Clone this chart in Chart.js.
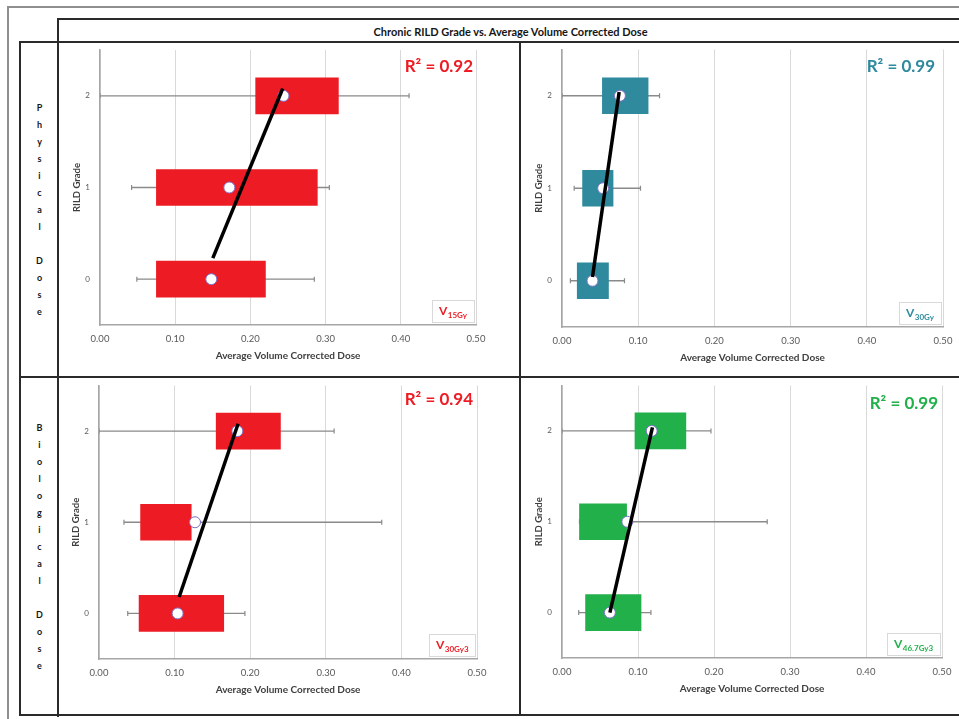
<!DOCTYPE html>
<html>
<head>
<meta charset="utf-8">
<title>Chronic RILD Grade vs. Average Volume Corrected Dose</title>
<script src="https://cdn.jsdelivr.net/npm/chart.js@4.4.1/dist/chart.umd.min.js"></script>
<style>
  html, body { margin: 0; padding: 0; background: #fff; }
  #page { position: relative; width: 959px; height: 719px; overflow: hidden;
          font-family: Lato, "Open Sans", sans-serif; }
  .rule { position: absolute; background: #2a2a2a; }
  .outer { position: absolute; background: #8f8f8f; }
  #title { position: absolute; left: 58px; top: 20px; width: 905px; height: 22px; line-height: 23px;
           text-align: center; font-weight: bold; font-size: 11px; color: #151515; }
  .side { position: absolute; left: 21px; width: 37px; display: flex; flex-direction: column;
          justify-content: center; align-items: center; font-weight: bold; font-size: 9px; color: #151515; }
  .side div { height: 17px; line-height: 17px; }
  canvas { position: absolute; }
</style>
</head>
<body>
<div id="page"></div>
<script>
// ---- data ----
const grades = [0, 1, 2];
const gradeTicks = [0, 1, 2];
const doseTicks = [0, 0.1, 0.2, 0.3, 0.4, 0.5];
const rowLabels = ['Physical Dose', 'Biological Dose'];
const chartTitle = 'Chronic RILD Grade vs. Average Volume Corrected Dose';
const axisTitleX = 'Average Volume Corrected Dose';
const axisTitleY = 'RILD Grade';

// V15Gy (physical dose)
const v15BoxLow      = [0.075, 0.075, 0.207];
const v15BoxHigh     = [0.220, 0.289, 0.317];
const v15WhiskerLow  = [0.049, 0.042, 0.000];
const v15WhiskerHigh = [0.285, 0.305, 0.411];
const v15Mean        = [0.148, 0.172, 0.244];
const v15TrendDose   = [0.150, 0.243];
const v15TrendGrade  = [0.23, 2.08];
const v15R2 = '0.92';

// V30Gy (physical dose)
const v30BoxLow      = [0.020, 0.027, 0.053];
const v30BoxHigh     = [0.061, 0.067, 0.113];
const v30WhiskerLow  = [0.011, 0.016, 0.000];
const v30WhiskerHigh = [0.082, 0.103, 0.128];
const v30Mean        = [0.040, 0.054, 0.076];
const v30TrendDose   = [0.040, 0.075];
const v30TrendGrade  = [0.04, 2.04];
const v30R2 = '0.99';

// V30Gy3 (biological dose)
const v30g3BoxLow      = [0.053, 0.055, 0.155];
const v30g3BoxHigh     = [0.165, 0.122, 0.240];
const v30g3WhiskerLow  = [0.038, 0.033, 0.000];
const v30g3WhiskerHigh = [0.193, 0.374, 0.311];
const v30g3Mean        = [0.104, 0.127, 0.183];
const v30g3TrendDose   = [0.106, 0.184];
const v30g3TrendGrade  = [0.18, 2.08];
const v30g3R2 = '0.94';

// V46.7Gy3 (biological dose)
const v467BoxLow      = [0.031, 0.023, 0.096];
const v467BoxHigh     = [0.104, 0.085, 0.163];
const v467WhiskerLow  = [0.022, 0.023, 0.000];
const v467WhiskerHigh = [0.117, 0.270, 0.196];
const v467Mean        = [0.063, 0.086, 0.118];
const v467TrendDose   = [0.063, 0.119];
const v467TrendGrade  = [0.00, 2.04];
const v467R2 = '0.99';

// ---- panel setup: series + placement ----
const RED = '#ED1C24', TEAL = '#2F8A9E', GREEN = '#22B04B';
const FONT = 'Lato, "Open Sans", sans-serif';

const panels = [
  { box: [v15BoxLow, v15BoxHigh], whisker: [v15WhiskerLow, v15WhiskerHigh], mean: v15Mean,
    trend: [v15TrendDose, v15TrendGrade], r2: v15R2, sub: '15Gy', color: RED,
    pos: { left: 59, top: 43, w: 460, h: 333 }, area: { l: 41, t: 7, r: 43, b: 51 }, r2Off: [3, 17] },
  { box: [v30BoxLow, v30BoxHigh], whisker: [v30WhiskerLow, v30WhiskerHigh], mean: v30Mean,
    trend: [v30TrendDose, v30TrendGrade], r2: v30R2, sub: '30Gy', color: TEAL,
    pos: { left: 522, top: 43, w: 437, h: 333 }, area: { l: 40, t: 4, r: 16, b: 49 }, r2Off: [8, 17] },
  { box: [v30g3BoxLow, v30g3BoxHigh], whisker: [v30g3WhiskerLow, v30g3WhiskerHigh], mean: v30g3Mean,
    trend: [v30g3TrendDose, v30g3TrendGrade], r2: v30g3R2, sub: '30Gy3', color: RED,
    pos: { left: 59, top: 379, w: 460, h: 335 }, area: { l: 40, t: 5, r: 42, b: 55 }, r2Off: [4, 14] },
  { box: [v467BoxLow, v467BoxHigh], whisker: [v467WhiskerLow, v467WhiskerHigh], mean: v467Mean,
    trend: [v467TrendDose, v467TrendGrade], r2: v467R2, sub: '46.7Gy3', color: GREEN,
    pos: { left: 522, top: 379, w: 437, h: 335 }, area: { l: 40, t: 6, r: 17, b: 56 }, r2Off: [4, 18] }
];

// ---- frame ----
const page = document.getElementById('page');
function rule(cls, x, y, w, h) {
  const d = document.createElement('div');
  d.className = cls;
  Object.assign(d.style, { left: x + 'px', top: y + 'px', width: w + 'px', height: h + 'px' });
  page.appendChild(d);
}
rule('outer', 8, 6, 960, 2);
rule('outer', 7, 6, 2, 720);
rule('rule', 57, 18, 910, 2);
rule('rule', 57, 18, 2, 699);
rule('rule', 19, 41, 950, 2);
rule('rule', 19, 376, 950, 2);
rule('rule', 19, 714, 950, 2);
rule('rule', 19, 41, 2, 675);
rule('rule', 519, 41, 2, 675);

const titleEl = document.createElement('div');
titleEl.id = 'title';
titleEl.textContent = chartTitle;
page.appendChild(titleEl);

const rowBands = [[43, 333], [378, 336]];
rowLabels.forEach((label, r) => {
  const col = document.createElement('div');
  col.className = 'side';
  col.style.top = rowBands[r][0] + 'px';
  col.style.height = rowBands[r][1] + 'px';
  for (const ch of label) {
    const c = document.createElement('div');
    c.innerHTML = ch === ' ' ? '&nbsp;' : ch;
    col.appendChild(c);
  }
  page.appendChild(col);
});

// R² and dose-volume label drawn on each panel
const notesPlugin = {
  id: 'panelNotes',
  afterDatasetsDraw(chart, args, o) {
    const { ctx, chartArea: a } = chart;
    ctx.save();
    ctx.fillStyle = o.color;
    ctx.textAlign = 'right';
    ctx.textBaseline = 'middle';
    ctx.font = 'bold 17px ' + FONT;
    ctx.fillText('R\u00B2 = ' + o.r2, a.right - o.r2Off[0], a.top + o.r2Off[1]);

    ctx.font = 'bold 12px ' + FONT;
    const wV = ctx.measureText('V').width;
    ctx.font = 'bold 8px ' + FONT;
    const wS = ctx.measureText(o.sub).width;
    const pad = 7;
    const bw = Math.round(wV + wS + 2 * pad + 1), bh = 23;
    const bx = Math.round(a.right - 1 - bw), by = Math.round(a.bottom - 2 - bh);
    ctx.fillStyle = '#fff';
    ctx.fillRect(bx, by, bw, bh);
    ctx.strokeStyle = '#d9d9d9';
    ctx.lineWidth = 1;
    ctx.strokeRect(bx + 0.5, by + 0.5, bw - 1, bh - 1);
    ctx.fillStyle = o.color;
    ctx.textAlign = 'left';
    ctx.font = 'bold 12px ' + FONT;
    ctx.fillText('V', bx + pad, by + bh / 2 - 0.5);
    ctx.font = 'bold 8px ' + FONT;
    ctx.fillText(o.sub, bx + pad + wV + 0.5, by + bh / 2 + 3.5);
    ctx.restore();
  }
};

panels.forEach((p, k) => {
  const cv = document.createElement('canvas');
  cv.width = p.pos.w; cv.height = p.pos.h;
  Object.assign(cv.style, { left: p.pos.left + 'px', top: p.pos.top + 'px',
                            width: p.pos.w + 'px', height: p.pos.h + 'px' });
  page.appendChild(cv);

  const whiskerSets = grades.map((g, i) => ({
    type: 'line',
    data: [{ x: p.whisker[0][i], y: g }, { x: p.whisker[1][i], y: g }],
    borderColor: '#8a8a8a', borderWidth: 1.3,
    pointStyle: 'line', pointRotation: 90, pointRadius: 2.5,
    pointBorderColor: '#8a8a8a', pointBorderWidth: 1.2,
    order: 4
  }));

  const boxSet = {
    type: 'bar', indexAxis: 'y',
    data: grades.map((g, i) => ({ y: g, x: [p.box[0][i], p.box[1][i]] })),
    backgroundColor: p.color, borderWidth: 0, barThickness: 36,
    order: 3
  };

  const meanSet = {
    type: 'line', showLine: false,
    data: grades.map((g, i) => ({ x: p.mean[i], y: g })),
    pointRadius: 5.5, pointBackgroundColor: '#ffffff',
    pointBorderColor: '#7d72c6', pointBorderWidth: 1,
    order: 2
  };

  const trendSet = {
    type: 'line',
    data: p.trend[0].map((d, i) => ({ x: d, y: p.trend[1][i] })),
    borderColor: '#000000', borderWidth: 3.5, pointRadius: 0,
    order: 1
  };

  const L = p.area.l, B = p.area.b;
  new Chart(cv, {
    type: 'line',
    data: { datasets: [...whiskerSets, boxSet, meanSet, trendSet] },
    options: {
      responsive: false, animation: false, devicePixelRatio: 1,
      layout: { padding: { left: 0, top: p.area.t, right: p.area.r, bottom: 0 } },
      plugins: {
        legend: { display: false }, tooltip: { enabled: false },
        panelNotes: { color: p.color, r2: p.r2, sub: p.sub, r2Off: p.r2Off }
      },
      scales: {
        x: {
          type: 'linear', position: 'bottom', min: 0, max: 0.5, offset: false,
          afterBuildTicks: s => { s.ticks = doseTicks.map(v => ({ value: v })); },
          afterFit: s => { s.height = B; s.paddingLeft = 0; s.paddingRight = 0; },
          ticks: { callback: v => Number(v).toFixed(2), color: '#595959',
                   font: { family: FONT, size: 9.5 }, padding: 8, maxRotation: 0 },
          grid: { color: '#d9d9d9', lineWidth: 1, drawTicks: false, offset: false },
          border: { color: '#a6a6a6', width: 1.5 },
          title: { display: true, text: axisTitleX, color: '#404040',
                   font: { family: FONT, size: 10, weight: 'bold' },
                   padding: { top: 0, bottom: B - 31 - 6 } }
        },
        y: {
          type: 'linear', position: 'left', min: -0.5, max: 2.5, offset: false,
          afterBuildTicks: s => { s.ticks = gradeTicks.map(v => ({ value: v })); },
          afterFit: s => { s.width = L; s.paddingTop = 0; s.paddingBottom = 0; },
          ticks: { color: '#595959', font: { family: FONT, size: 8 }, padding: 10 },
          grid: { display: false, drawTicks: false },
          border: { color: '#a6a6a6', width: 1.5 },
          title: { display: true, text: axisTitleY, color: '#404040',
                   font: { family: FONT, size: 9.5, weight: 'bold' },
                   padding: { top: L - 23.5 - 5.7, bottom: 0 } }
        }
      }
    },
    plugins: [notesPlugin]
  });
});
</script>
</body>
</html>
